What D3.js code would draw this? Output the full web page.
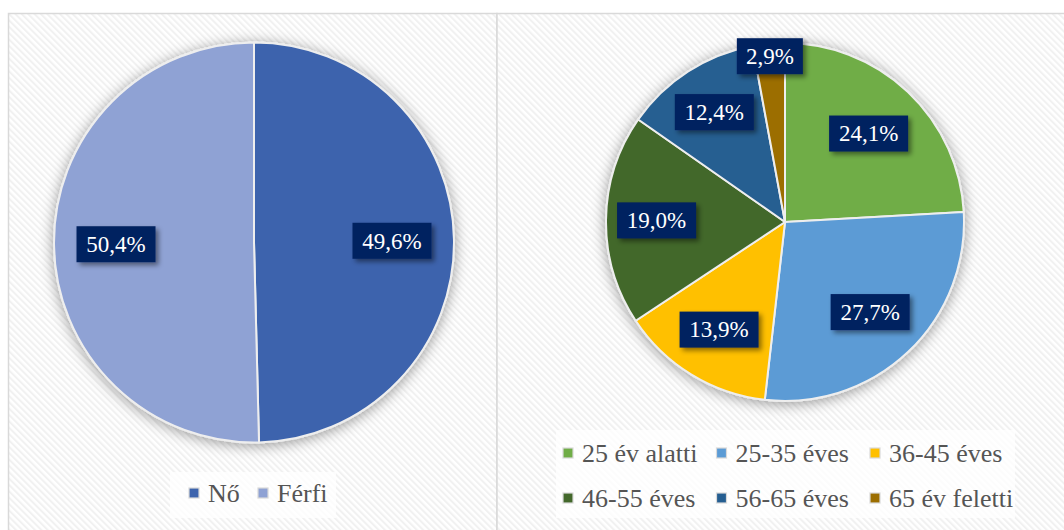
<!DOCTYPE html>
<html>
<head>
<meta charset="utf-8">
<script src="https://cdn.jsdelivr.net/npm/d3@7"></script>
<style>
  html, body { margin: 0; padding: 0; background: #fff; }
  svg { display: block; }
</style>
</head>
<body>
<div id="chart"></div>
<script>
// gender split
const genderLabels = ['Nő', 'Férfi'];
const genderValues = [49.6, 50.4];
const genderColors = ['#3D64AD', '#8FA2D4'];

// age groups
const ageLabels = ['25 év alatti', '25-35 éves', '36-45 éves', '46-55 éves', '56-65 éves', '65 év feletti'];
const ageValues = [24.1, 27.7, 13.9, 19.0, 12.4, 2.9];
const ageColors = ['#70AD47', '#5B9BD5', '#FFC000', '#43682B', '#255E91', '#9C6E00'];

const width = 1064, height = 530;
const serif = "'Liberation Serif', 'Times New Roman', Times, 'DejaVu Serif', serif";
const fmt = v => v.toFixed(1).replace('.', ',') + '%';

const svg = d3.select('#chart').append('svg')
    .attr('width', width)
    .attr('height', height);

const defs = svg.append('defs');

// diagonal stripe background
const pat = defs.append('pattern')
    .attr('id', 'stripes')
    .attr('patternUnits', 'userSpaceOnUse')
    .attr('width', 4.5).attr('height', 4.5)
    .attr('patternTransform', 'rotate(-45)');
pat.append('rect').attr('width', 4.5).attr('height', 4.5).attr('fill', '#ffffff');
pat.append('rect').attr('width', 2).attr('height', 4.5).attr('fill', '#f1f1f1');

const pieShadow = defs.append('filter').attr('id', 'pieShadow')
    .attr('x', '-20%').attr('y', '-20%').attr('width', '140%').attr('height', '140%');
pieShadow.append('feDropShadow')
    .attr('dx', 0).attr('dy', 2).attr('stdDeviation', 7)
    .attr('flood-color', '#000').attr('flood-opacity', 0.4);

const boxShadow = defs.append('filter').attr('id', 'boxShadow')
    .attr('x', '-30%').attr('y', '-30%').attr('width', '160%').attr('height', '160%');
boxShadow.append('feDropShadow')
    .attr('dx', 3).attr('dy', 3).attr('stdDeviation', 2.5)
    .attr('flood-color', '#000').attr('flood-opacity', 0.45);

// panels
const panels = [
    { x: 8.5, w: 488.5 },
    { x: 497, w: 580 }
];
svg.selectAll('rect.panel')
    .data(panels)
    .enter()
    .append('rect')
    .attr('class', 'panel')
    .attr('x', d => d.x)
    .attr('y', 13.5)
    .attr('width', d => d.w)
    .attr('height', 540)
    .attr('fill', 'url(#stripes)')
    .attr('stroke', '#d9d9d9')
    .attr('stroke-width', 1.5);

function drawPie(cx, cy, r, labels, values, colors, labelFrac) {
    const data = labels.map((l, i) => ({ label: l, value: values[i], color: colors[i] }));
    const pie = d3.pie().sort(null).value(d => d.value);
    const arcs = pie(data);
    const arc = d3.arc().innerRadius(0).outerRadius(r);

    const g = svg.append('g').attr('transform', `translate(${cx},${cy})`);

    g.append('g')
        .attr('filter', 'url(#pieShadow)')
        .selectAll('path')
        .data(arcs)
        .enter()
        .append('path')
        .attr('d', arc)
        .attr('fill', d => d.data.color)
        .attr('stroke', '#eeeeee')
        .attr('stroke-width', 2)
        .attr('stroke-linejoin', 'round');

    // data labels
    const lbl = g.append('g').selectAll('g')
        .data(arcs)
        .enter()
        .append('g')
        .attr('transform', d => {
            const share = (d.endAngle - d.startAngle) / (2 * Math.PI);
            const f = share < 0.05 ? 0.93 : labelFrac(d);
            const a = (d.startAngle + d.endAngle) / 2;
            return `translate(${Math.sin(a) * r * f},${-Math.cos(a) * r * f})`;
        });

    lbl.append('rect')
        .attr('x', d => -(d.value >= 10 ? 39.5 : 33))
        .attr('y', -18)
        .attr('width', d => d.value >= 10 ? 79 : 66)
        .attr('height', 36)
        .attr('fill', '#002060')
        .attr('filter', 'url(#boxShadow)');

    lbl.append('text')
        .attr('text-anchor', 'middle')
        .attr('dy', '0.34em')
        .attr('fill', '#ffffff')
        .style('font-family', serif)
        .attr('font-size', 23)
        .text(d => fmt(d.value));
}

drawPie(254, 242.5, 200, genderLabels, genderValues, genderColors, () => 0.69);
drawPie(785, 222, 179, ageLabels, ageValues, ageColors, d => 0.68 + 0.05 * d.index / 4);

function drawLegend(box, items, colW, rowH, x0, y0, cols) {
    svg.append('rect')
        .attr('x', box.x).attr('y', box.y)
        .attr('width', box.w).attr('height', box.h)
        .attr('fill', '#ffffff').attr('fill-opacity', 0.75);

    const it = svg.append('g').selectAll('g')
        .data(items)
        .enter()
        .append('g')
        .attr('transform', (d, i) => `translate(${x0 + (i % cols) * colW},${y0 + Math.floor(i / cols) * rowH})`);

    it.append('rect')
        .attr('x', 0).attr('y', -14)
        .attr('width', 10).attr('height', 10)
        .attr('fill', d => d.color)
        .attr('stroke', '#d9d9d9')
        .attr('stroke-width', 1.2);

    it.append('text')
        .attr('x', 19)
        .attr('y', 0)
        .attr('fill', '#555555')
        .style('font-family', serif)
        .attr('font-size', 26)
        .text(d => d.label);
}

drawLegend({ x: 170, y: 472, w: 166, h: 46 },
    genderLabels.map((l, i) => ({ label: l, color: genderColors[i] })),
    69, 0, 189, 502, 2);

drawLegend({ x: 556, y: 430, w: 459, h: 88 },
    ageLabels.map((l, i) => ({ label: l, color: ageColors[i] })),
    153.5, 45, 563, 462, 3);
</script>
</body>
</html>
